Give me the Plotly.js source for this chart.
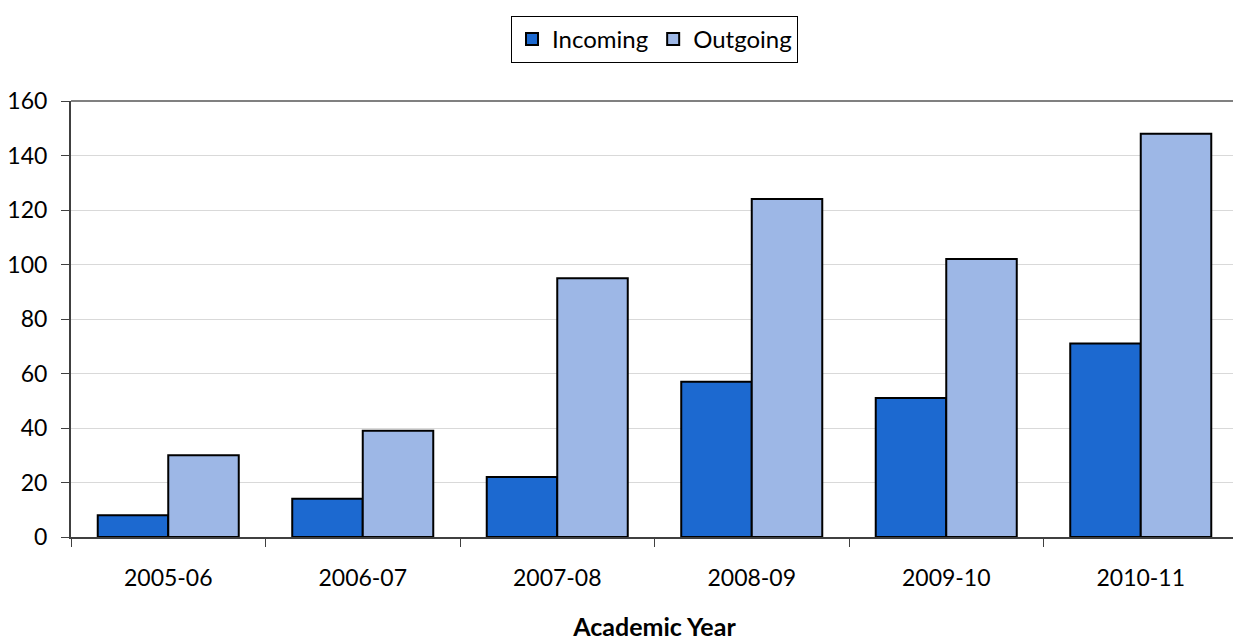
<!DOCTYPE html>
<html>
<head>
<meta charset="utf-8">
<script src="https://cdn.plot.ly/plotly-3.0.1.min.js"></script>
<style>html,body{margin:0;padding:0;overflow:hidden;background:#fff;}</style>
</head>
<body>
<div id="chart"></div>
<script>
const years = ["2005-06", "2006-07", "2007-08", "2008-09", "2009-10", "2010-11"];
const incoming = [8, 14, 22, 57, 51, 71];
const outgoing = [30, 39, 95, 124, 102, 148];
const yTicks = [0, 20, 40, 60, 80, 100, 120, 140, 160];

const font = "Lato, 'Open Sans', 'DejaVu Sans', sans-serif";

const traces = [
  {type: "bar", name: "Incoming", x: years, y: incoming,
   marker: {color: "#1c69d0", line: {color: "#000", width: 2}}},
  {type: "bar", name: "Outgoing", x: years, y: outgoing,
   marker: {color: "#9db7e6", line: {color: "#000", width: 2}}}
];

const layout = {
  width: 1240, height: 641,
  margin: {l: 71, r: 2, t: 101, b: 104},
  paper_bgcolor: "#fff", plot_bgcolor: "#fff",
  barmode: "group", bargap: 0.275, bargroupgap: 0,
  font: {family: font, size: 23, color: "#000"},
  showlegend: true,
  legend: {orientation: "h", x: 0.5, xanchor: "center", y: 1.195, yanchor: "top",
           bordercolor: "#000", borderwidth: 1, font: {size: 24, family: font},
           tracegroupgap: 0},
  xaxis: {type: "category", tickson: "boundaries", ticks: "outside", ticklen: 8,
          tickcolor: "#404040", showline: true, linecolor: "#404040", linewidth: 2,
          showgrid: false, ticklabelstandoff: 19,
          tickfont: {size: 23, family: font},
          title: {text: "<b>Academic Year</b>", font: {size: 25, family: font}, standoff: 34}},
  yaxis: {range: [0, 160], tickvals: yTicks, ticks: "outside", ticklen: 8,
          tickcolor: "#404040", showline: true, linecolor: "#404040", linewidth: 2,
          showgrid: true, gridcolor: "#d9d9d9", gridwidth: 1, zeroline: false,
          ticklabelstandoff: 9, tickfont: {size: 23, family: font}},
  shapes: [{type: "line", xref: "paper", yref: "paper", x0: 0, x1: 1, y0: 1, y1: 1,
            line: {color: "#808080", width: 2}}]
};

Plotly.newPlot("chart", traces, layout, {displayModeBar: false, staticPlot: true});
</script>
</body>
</html>
